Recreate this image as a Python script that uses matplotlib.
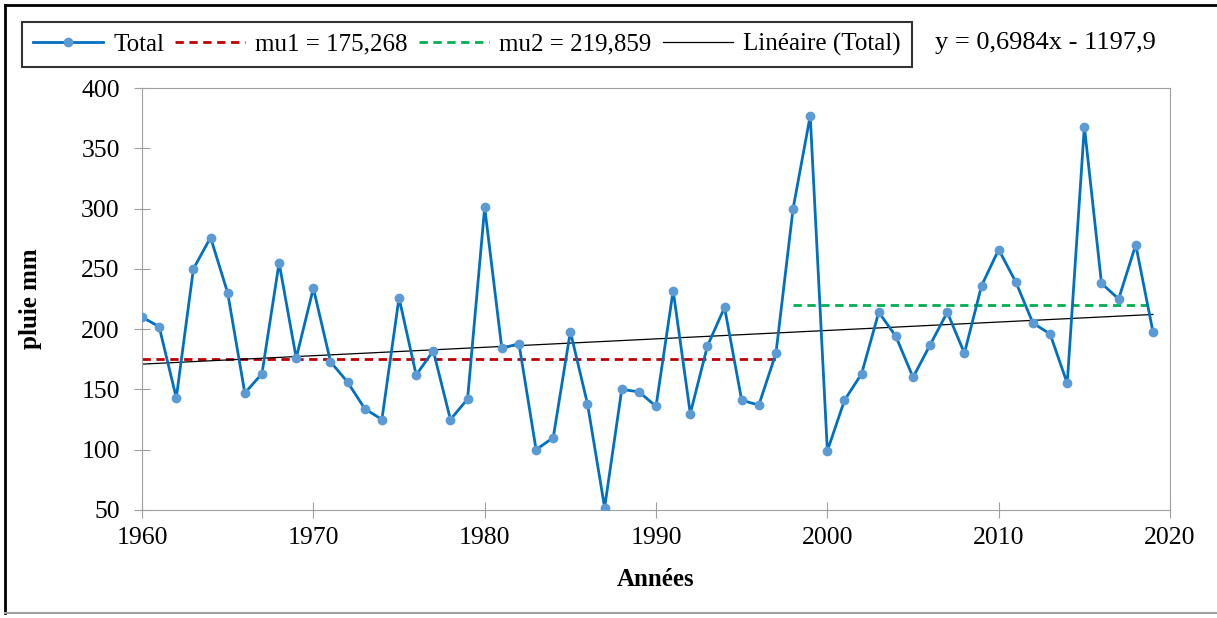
import numpy as np
import matplotlib
matplotlib.use('Agg')
import matplotlib.pyplot as plt
from matplotlib.lines import Line2D

plt.rcParams['font.family'] = ['Liberation Serif', 'DejaVu Serif']

annees = list(range(1960, 2020))
pluie = [210, 202, 143, 250, 276, 230, 147, 163, 255, 176,
         234, 173, 156, 134, 125, 226, 162, 182, 125, 142,
         301, 184, 188, 100, 110, 198, 138, 52, 150, 148,
         136, 232, 130, 186, 218, 141, 137, 180, 300, 377,
         99, 141, 163, 214, 194, 160, 187, 214, 180, 236,
         266, 239, 205, 196, 155, 368, 238, 225, 270, 198]

mu1 = 175.268
mu1_annees = [1960, 1997]
mu2 = 219.859
mu2_annees = [1998, 2019]
pente = 0.6984
ordonnee = -1197.9

fig = plt.figure(figsize=(12.17, 6.18), dpi=100)
ax = fig.add_axes([0.1167, 0.1748, 0.8447, 0.6828])

ax.plot(annees, pluie, color='#0070c0', lw=2, marker='o', markersize=6,
        markerfacecolor='#5b9bd5', markeredgecolor='#5b9bd5', label='Total', zorder=3)
ax.plot(mu1_annees, [mu1, mu1], color='#c00000', lw=2, ls=(0, (3, 2)), label='mu1 = 175,268')
ax.plot(mu2_annees, [mu2, mu2], color='#00b050', lw=2, ls=(0, (3, 2)), label='mu2 = 219,859')
xt = np.array([annees[0], annees[-1]])
ax.plot(xt, pente * xt + ordonnee, color='black', lw=0.9, label='Linéaire (Total)')

ax.set_xlim(1960, 2020)
ax.set_ylim(50, 400)
ax.set_xticks(range(1960, 2021, 10))
ax.set_yticks(range(50, 401, 50))
for s in ax.spines.values():
    s.set_color('#a0a0a0')
ax.tick_params(direction='inout', length=12, color='#a0a0a0', labelsize=18.5)
ax.tick_params(axis='x', pad=6)
ax.tick_params(axis='y', pad=10)
ax.set_xlabel('Années', fontsize=18, fontweight='bold', labelpad=14)
ax.set_ylabel('pluie mm', fontsize=18, fontweight='bold', labelpad=28)

handles, labels = ax.get_legend_handles_labels()
leg = fig.legend(handles, labels, loc='upper left', bbox_to_anchor=(0.018, 0.965), ncol=4,
                 fontsize=18, frameon=True, fancybox=False, edgecolor='black',
                 handlelength=2.8, handletextpad=0.4, columnspacing=0.45,
                 borderpad=0.45, borderaxespad=0)
leg.get_frame().set_linewidth(1.5)

fig.text(0.768, 0.93, 'y = 0,6984x - 1197,9', fontsize=19, va='center', ha='left')

fig.add_artist(Line2D([0.004, 1], [0.992, 0.992], color='black', lw=2, transform=fig.transFigure))
fig.add_artist(Line2D([0.004, 0.004], [0.008, 0.992], color='black', lw=2, transform=fig.transFigure))
fig.add_artist(Line2D([0.004, 1], [0.008, 0.008], color='#a0a0a0', lw=1.5, transform=fig.transFigure))

fig.savefig('out.png', dpi=100)
